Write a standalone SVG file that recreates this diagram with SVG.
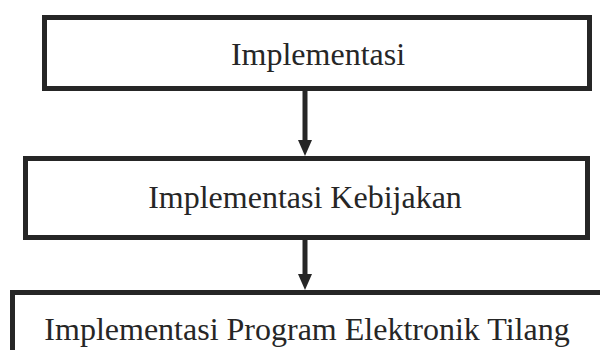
<svg xmlns="http://www.w3.org/2000/svg" width="600" height="350" viewBox="0 0 600 350">
<style>
.box{fill:#ffffff;stroke:#262626;stroke-width:5}
.lbl{font-family:"Liberation Serif","Times New Roman",serif;font-size:32px;fill:#262626;text-anchor:middle}
.conn{stroke:#262626;stroke-width:5;fill:none}
.head{fill:#262626}
</style>
<rect width="600" height="350" fill="#ffffff"/>
<g id="connectors">
<line class="conn" x1="305" y1="88" x2="305" y2="140"/>
<polygon class="head" points="298,140 312,140 305,156"/>
<line class="conn" x1="305" y1="238" x2="305" y2="274"/>
<polygon class="head" points="298,274 312,274 305,290"/>
</g>
<g id="node1">
<rect class="box" x="44.5" y="17.5" width="545" height="71"/>
<text class="lbl" x="318" y="65">Implementasi</text>
</g>
<g id="node2">
<rect class="box" x="25.5" y="158.5" width="562" height="79"/>
<text class="lbl" x="305" y="208">Implementasi Kebijakan</text>
</g>
<g id="node3">
<rect class="box" x="12.5" y="292.5" width="600" height="80"/>
<text class="lbl" x="307" y="340">Implementasi Program Elektronik Tilang</text>
</g>
</svg>
